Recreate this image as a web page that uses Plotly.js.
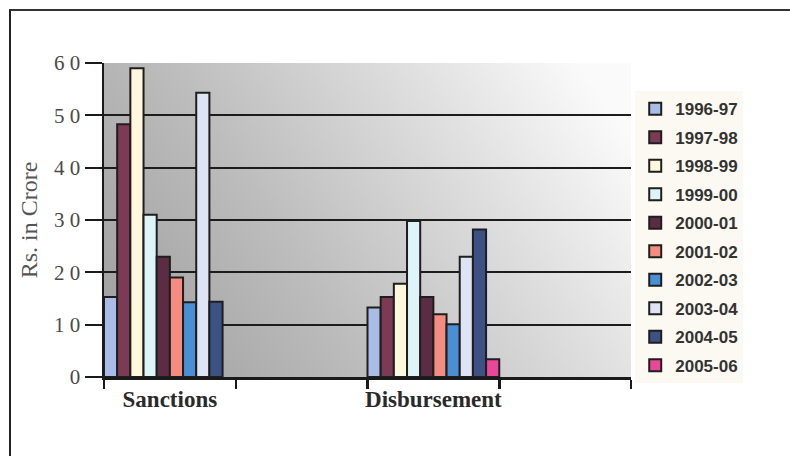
<!DOCTYPE html>
<html>
<head>
<meta charset="utf-8">
<script src="https://cdn.plot.ly/plotly-3.0.1.min.js"></script>
<style>
  html, body { margin: 0; padding: 0; background: #ffffff; }
  #wrap { position: relative; width: 790px; height: 456px; overflow: hidden; }
  #chart { width: 790px; height: 456px; }
  #frame { position: absolute; left: 9px; top: 9px; width: 800px; height: 460px;
           border-top: 2px solid #333; border-left: 2px solid #222; pointer-events: none; }
</style>
</head>
<body>
<div id="wrap">
  <div id="chart"></div>
  <div id="frame"></div>
</div>
<script>
// ---- data ----
const categories = ['Sanctions', 'Disbursement'];
const axisCategories = ['Sanctions', ' ', 'Disbursement', '  '];
const years = ['1996-97', '1997-98', '1998-99', '1999-00', '2000-01',
               '2001-02', '2002-03', '2003-04', '2004-05', '2005-06'];
const sanctions    = [15.3, 48.3, 59.0, 31.0, 23.0, 19.0, 14.3, 54.3, 14.4, null];
const disbursement = [13.3, 15.3, 17.8, 29.8, 15.3, 12.0, 10.1, 23.0, 28.2, 3.4];
const colors = ['#a9bbe6', '#7d3a55', '#fff8dc', '#ddf4f8', '#5c2c44',
                '#f58c80', '#4a8ed6', '#dfe4f5', '#3c5284', '#e8479a'];
const yTickVals = [0, 10, 20, 30, 40, 50, 60];
const yTickText = ['0', '1 0', '2 0', '3 0', '4 0', '5 0', '6 0'];

// ---- gradient background image ----
function makeGradient() {
  const c = document.createElement('canvas');
  c.width = 527; c.height = 314;
  const ctx = c.getContext('2d');
  const g = ctx.createLinearGradient(0, c.height, c.width * 0.9, 0);
  g.addColorStop(0, '#9c9c9c');
  g.addColorStop(0.4, '#bdbdbd');
  g.addColorStop(0.75, '#e0e0e0');
  g.addColorStop(1, '#fafafa');
  ctx.fillStyle = g;
  ctx.fillRect(0, 0, c.width, c.height);
  return c.toDataURL('image/png');
}

const traces = years.map((yr, i) => ({
  type: 'bar',
  name: yr,
  x: categories,
  y: [sanctions[i], disbursement[i]],
  marker: { color: colors[i], line: { color: '#1e1e1e', width: 2 } },
  legendgroup: 'g' + i,
  hoverinfo: 'x+y+name'
}));

const layout = {
  width: 790,
  height: 456,
  margin: { l: 104, r: 159, t: 63, b: 79 },
  paper_bgcolor: 'rgba(0,0,0,0)',
  plot_bgcolor: 'rgba(0,0,0,0)',
  barmode: 'group',
  bargap: 0,
  bargroupgap: 0,
  showlegend: true,
  legend: {
    x: 1.008, xanchor: 'left',
    y: 0.91, yanchor: 'top',
    bgcolor: '#fbf9f1',
    borderwidth: 0,
    tracegroupgap: 3.4,
    font: { family: 'Liberation Sans, Arial, sans-serif', size: 17, color: '#333333', weight: 'bold' },
    itemwidth: 30
  },
  images: [{
    source: makeGradient(),
    xref: 'paper', yref: 'paper',
    x: 0, y: 1, sizex: 1, sizey: 1,
    xanchor: 'left', yanchor: 'top',
    sizing: 'stretch', layer: 'below'
  }],
  xaxis: {
    type: 'category',
    categoryorder: 'array',
    categoryarray: axisCategories,
    range: [-0.5, 3.5],
    tickson: 'boundaries',
    tickangle: 0,
    ticks: 'outside',
    ticklen: 9,
    tickwidth: 2.5,
    tickcolor: '#1a1a1a',
    showline: true,
    linecolor: '#1a1a1a',
    linewidth: 2.5,
    showgrid: false,
    zeroline: false,
    tickfont: { family: 'Liberation Serif, Times New Roman, serif', size: 23, color: '#2a2a2a', weight: 'bold' }
  },
  yaxis: {
    range: [0, 60],
    tickvals: yTickVals,
    ticktext: yTickText,
    ticks: 'outside',
    ticklen: 17,
    tickwidth: 2,
    tickcolor: '#1a1a1a',
    showline: true,
    linecolor: '#1a1a1a',
    linewidth: 2.5,
    showgrid: true,
    gridcolor: '#1c1c1c',
    gridwidth: 2,
    zeroline: false,
    tickfont: { family: 'Liberation Serif, Times New Roman, serif', size: 21, color: '#4a4a4a' },
    title: {
      text: 'Rs. in Crore',
      font: { family: 'Liberation Serif, Times New Roman, serif', size: 24, color: '#555555' },
      standoff: 10
    }
  }
};

Plotly.newPlot('chart', traces, layout, { displayModeBar: false, staticPlot: true });
</script>
</body>
</html>
